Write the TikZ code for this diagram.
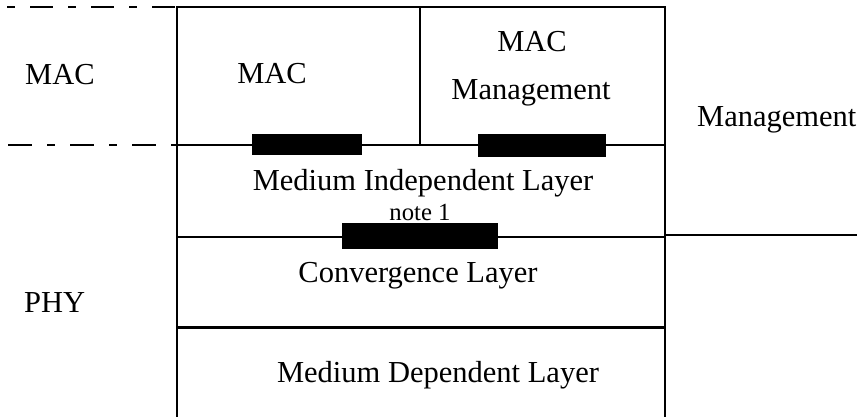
\documentclass[tikz,border=0pt]{standalone}
\usepackage{fontspec}
\setmainfont{Liberation Serif}
\begin{document}
\begin{tikzpicture}[x=1pt,y=-1pt,
  rule/.style={line width=2pt,line cap=rect},
  thickrule/.style={line width=3pt},
  dashtop/.style={line width=1.4pt,dash pattern=on 8pt off 15pt on 23pt off 15pt},
  dashbot/.style={line width=1.4pt,dash pattern=on 24pt off 15pt on 8pt off 15pt},
  bar/.style={fill=black,draw=none},
  lbl/.style={font=\fontsize{30.5}{36}\selectfont,inner sep=0pt,anchor=base},
  lblw/.style={lbl,anchor=base west},
  small/.style={font=\fontsize{24.7}{30}\selectfont,inner sep=0pt,anchor=base}]
\useasboundingbox (0,0) rectangle (857,417);
% frame lines
\draw[line width=2.4pt] (177,7) -- (177,417);
\draw[rule] (665,7) -- (665,417);
\draw[rule] (177,7) -- (665,7);
\draw[rule] (177,145) -- (665,145);
\draw[rule] (420,7) -- (420,145);
\draw[rule] (177,237) -- (665,237);
\draw[rule] (665,235) -- (857,235);
\draw[thickrule] (177,327) -- (665,327);
% dashed lines
\draw[dashtop] (7,7) -- (177,7);
\draw[dashbot] (8,145) -- (177,145);
% bars
\fill[bar] (252,134) rectangle (362,155);
\fill[bar] (478,134) rectangle (606,157);
\fill[bar] (342,223) rectangle (498,249);
% labels
\node[lblw] (macL) at (25,85) {MAC};
\node[lblw] (phy) at (24,312) {PHY};
\node[lblw] (mgmt) at (697,127) {Management};
\node[lbl] (mac) at (272,84) {MAC};
\node[lbl] (macm1) at (532,52) {MAC};
\node[lbl] (macm2) at (531,100) {Management};
\node[lbl] (mil) at (423,190) {Medium Independent Layer};
\node[small] (note) at (420,220) {note 1};
\node[lbl] (conv) at (418,282) {Convergence Layer};
\node[lbl] (mdl) at (438,382) {Medium Dependent Layer};
\end{tikzpicture}
\end{document}
